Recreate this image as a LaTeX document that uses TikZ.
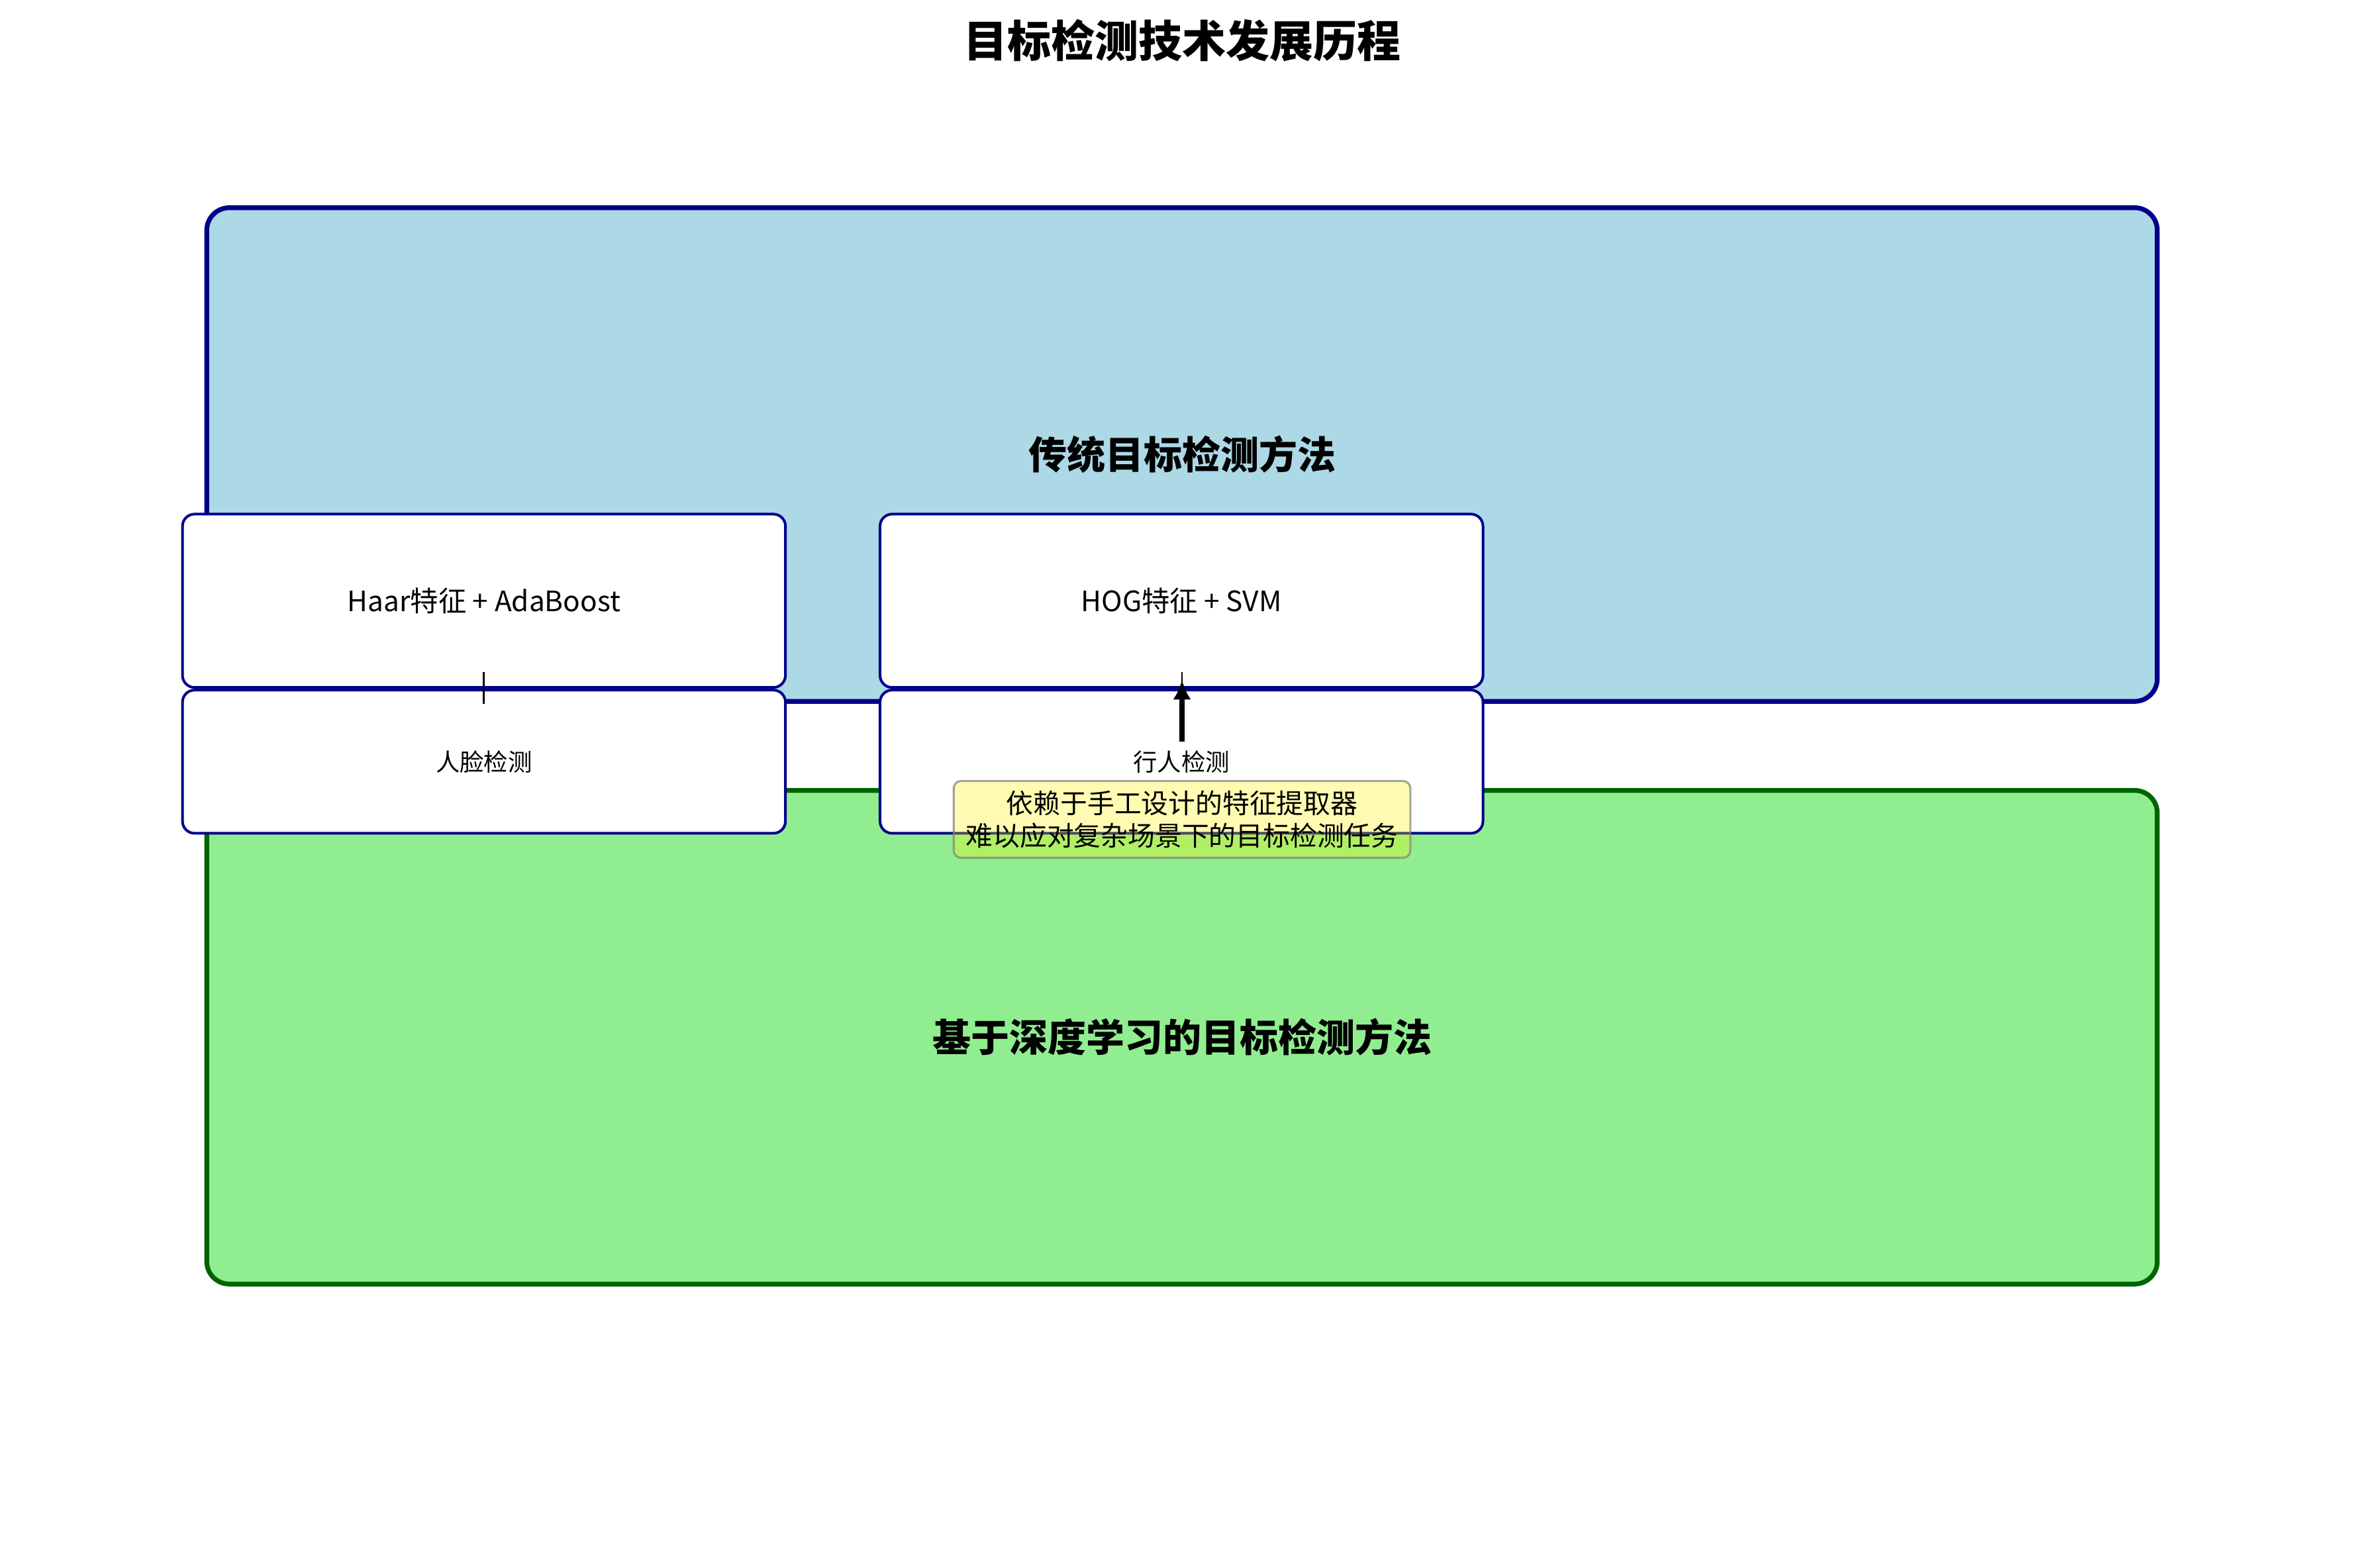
\documentclass[tikz,border=0pt]{standalone}
\usepackage{fontspec}
\setmainfont{Noto Sans CJK SC}
\usepackage{tikz}
\usetikzlibrary{arrows.meta,positioning}
\definecolor{paleblue}{HTML}{ADD8E6}
\definecolor{navy}{HTML}{00008B}
\definecolor{palegreen}{HTML}{90EE90}
\definecolor{forest}{HTML}{006400}
\tikzset{
  stagebox/.style={rectangle, rounded corners=0.3cm, line width=1.8pt, minimum width=25.88cm,
              minimum height=6.55cm, font=\fontsize{14.5}{17}\selectfont\bfseries},
  tradbox/.style={stagebox, draw=navy, fill=paleblue},
  deepbox/.style={stagebox, draw=forest, fill=palegreen},
  methbox/.style={rectangle, rounded corners=0.16cm, draw=navy, fill=white, line width=1pt,
              minimum width=8cm, minimum height=2.3cm, font=\fontsize{10.6}{12}\selectfont},
  taskbox/.style={methbox, minimum height=1.9cm, font=\fontsize{9.1}{11}\selectfont},
  notebox/.style={rectangle, rounded corners=0.1cm, draw=gray, draw opacity=0.7, fill=yellow,
              fill opacity=0.3, text opacity=1, line width=0.8pt, align=center, inner sep=0.1cm,
              minimum width=6.06cm, minimum height=1.02cm, font=\fontsize{10.2}{12.4}\selectfont},
  ttl/.style={font=\fontsize{16.5}{20}\selectfont\bfseries},
  stub/.style={draw=black, line width=0.7pt},
  flow/.style={-{Latex[length=0.26cm, width=0.24cm]}, draw=black, line width=2pt}
}
\begin{document}
\begin{tikzpicture}[x=0.02cm, y=-0.02cm]
 \useasboundingbox (0,0) rectangle (1568,1040);
 \node[ttl] (title) at (784,27) {目标检测技术发展历程};
 % the two stages
 \node[tradbox] (trad) at (784,301.5) {传统目标检测方法};
 \node[deepbox] (deep) at (784,688) {基于深度学习的目标检测方法};
 % methods and their tasks
 \node[methbox] (haar) at (321,398.5) {Haar特征 + AdaBoost};
 \node[taskbox, below=0cm of haar] (face) {人脸检测};
 \node[methbox, right=1.22cm of haar] (hog) {HOG特征 + SVM};
 \node[taskbox, below=0cm of hog] (ped) {行人检测};
 \coordinate (haarfoot) at (321,446);
 \coordinate (facehead) at (321,467);
 \coordinate (hogfoot) at (784,446);
 \coordinate (hogtip) at (784,455);
 \coordinate (pedtip) at (784,451);
 \coordinate (pedlbl) at (784,492);
 \draw[stub](haarfoot)--(facehead);
 \draw[stub](hogfoot)--(hogtip);
 \draw[flow](pedlbl)--(pedtip);
 \node[notebox] (limit) at (784,543.5) {依赖于手工设计的特征提取器\\难以应对复杂场景下的目标检测任务};
\end{tikzpicture}
\end{document}
